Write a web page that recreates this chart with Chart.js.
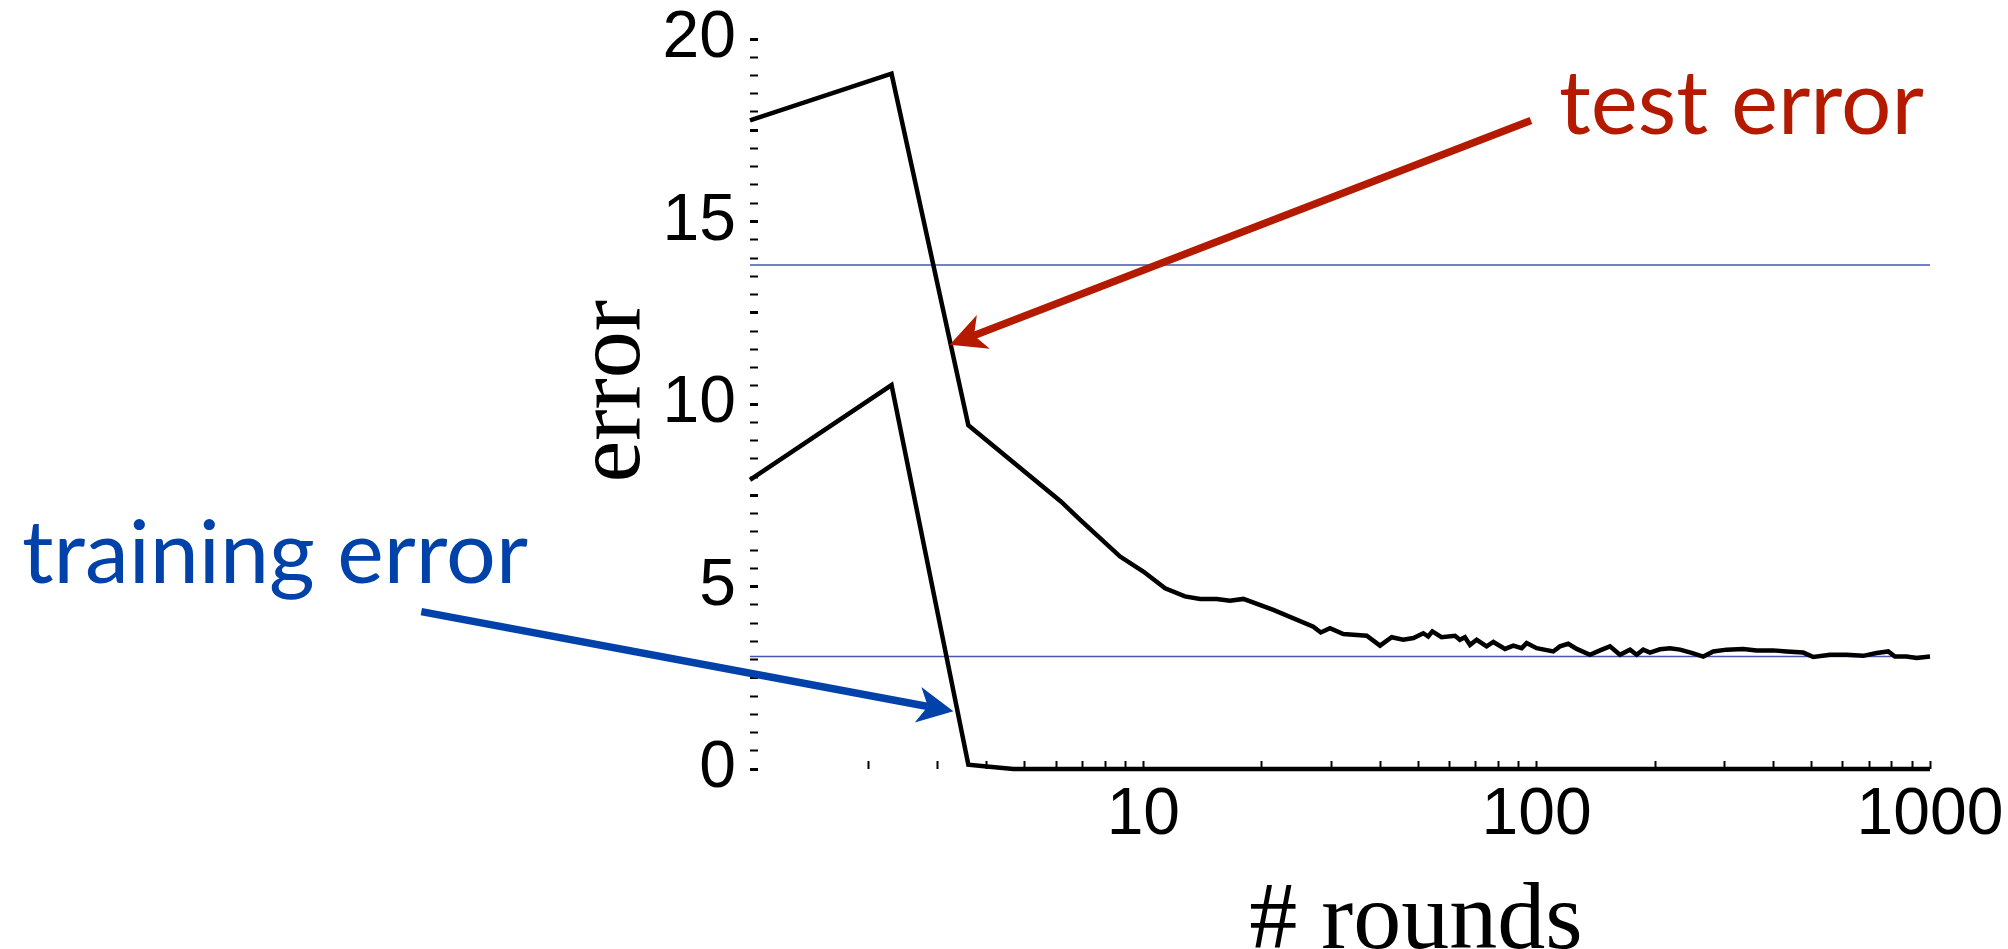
<!DOCTYPE html>
<html>
<head>
<meta charset="utf-8">
<title>test / training error vs rounds</title>
<script src="https://cdn.jsdelivr.net/npm/chart.js@4.4.1/dist/chart.umd.min.js"></script>
<style>
  html, body { margin: 0; padding: 0; background: #fff; }
</style>
</head>
<body>
<canvas id="errorChart" width="2008" height="949"></canvas>
<script>
// values (x = # rounds, y = error %)
const testRounds = [1, 2.29, 3.59, 6.17, 6.9, 8.73, 10, 11.36, 12.76, 13.94, 15.37, 16.61, 17.96, 21.4,
  27.05, 28.25, 29.83, 32.24, 36.98, 39.97, 42.8, 45.8, 48.6, 51.5, 53, 54.3, 57.3, 62, 63.8, 65.7,
  67.7, 70.4, 74.6, 77.6, 83.1, 87.2, 91.6, 94.3, 100, 110.2, 114.6, 120.3, 126.4, 136.6, 144.9,
  153.6, 162.8, 172.7, 179.6, 186.6, 194.1, 205.8, 218.2, 231.4, 247.7, 265.2, 281.2, 304.1, 335.1,
  362.5, 399.4, 432.1, 476.2, 505, 556.7, 613.8, 676.5, 731.6, 783.1, 814.4, 872.1, 924.6, 1000];
const testError = [17.77, 19.05, 9.42, 7.33, 6.83, 5.82, 5.41, 4.95, 4.73, 4.66, 4.66, 4.61, 4.66, 4.36,
  3.9, 3.74, 3.86, 3.7, 3.65, 3.38, 3.61, 3.54, 3.59, 3.72, 3.63, 3.77, 3.61, 3.65, 3.54, 3.61,
  3.4, 3.54, 3.36, 3.48, 3.29, 3.38, 3.31, 3.45, 3.31, 3.22, 3.36, 3.43, 3.29, 3.13, 3.25,
  3.36, 3.13, 3.27, 3.13, 3.27, 3.19, 3.28, 3.31, 3.27, 3.18, 3.08, 3.22, 3.27, 3.29,
  3.25, 3.25, 3.22, 3.19, 3.07, 3.13, 3.13, 3.1, 3.18, 3.22, 3.08, 3.08, 3.04, 3.08];

const trainRounds = [1, 2.29, 3.59, 4.0, 4.67, 1000];
const trainError = [7.92, 10.52, 0.12, 0.07, 0, 0];

// the two thin blue reference lines
const refRounds = [1, 1000];
const refUpper = [13.81, 13.81];
const refLower = [3.08, 3.08];

const roundTicks = [2, 3, 4, 5, 6, 7, 8, 9, 10, 20, 30, 40, 50, 60, 70, 80, 90,
  100, 200, 300, 400, 500, 600, 700, 800, 900, 1000];
const roundLabels = [10, 100, 1000];
const errorLabels = [0, 5, 10, 15, 20];

const RED = '#b41a00';
const BLUE = '#0041aa';
const REF = '#4656b0';

function pts(xs, ys) {
    return xs.map((x, i) => ({ x: x, y: ys[i] }));
}

function drawArrow(ctx, x0, y0, x1, y1, color) {
    const ang = Math.atan2(y1 - y0, x1 - x0);
    const headLen = 36, headHalf = 18, notch = 26;
    ctx.save();
    ctx.strokeStyle = color;
    ctx.fillStyle = color;
    ctx.lineWidth = 7.5;
    ctx.lineCap = 'butt';
    ctx.beginPath();
    ctx.moveTo(x0, y0);
    ctx.lineTo(x1 - notch * Math.cos(ang), y1 - notch * Math.sin(ang));
    ctx.stroke();
    ctx.translate(x1, y1);
    ctx.rotate(ang);
    ctx.beginPath();
    ctx.moveTo(0, 0);
    ctx.lineTo(-headLen, -headHalf);
    ctx.lineTo(-notch, 0);
    ctx.lineTo(-headLen, headHalf);
    ctx.closePath();
    ctx.fill();
    ctx.restore();
}

// labels, arrows and axis titles, placed in data space
const annotations = {
    id: 'annotations',
    afterDatasetsDraw(chart) {
        const { ctx, scales: { x, y }, chartArea } = chart;

        drawArrow(ctx, x.getPixelForValue(96.7), y.getPixelForValue(17.77),
            x.getPixelForValue(3.22), y.getPixelForValue(11.62), RED);
        drawArrow(ctx, x.getPixelForValue(0.146), y.getPixelForValue(4.31),
            x.getPixelForValue(3.29), y.getPixelForValue(1.58), BLUE);

        ctx.save();
        ctx.textAlign = 'left';
        ctx.textBaseline = 'alphabetic';
        ctx.font = '89px Lato, "Open Sans", sans-serif';
        ctx.fillStyle = RED;
        ctx.fillText('test error', x.getPixelForValue(114), y.getPixelForValue(17.4));
        ctx.font = '88px Lato, "Open Sans", sans-serif';
        ctx.fillStyle = BLUE;
        ctx.fillText('training error', x.getPixelForValue(0.0141), y.getPixelForValue(5.1));

        // axis titles
        ctx.fillStyle = '#000';
        ctx.font = '96px "Liberation Serif", "Times New Roman", serif';
        ctx.textAlign = 'center';
        ctx.fillText('# rounds', x.getPixelForValue(49.3), 948);
        ctx.translate(chartArea.left - 111, y.getPixelForValue(10.35));
        ctx.rotate(-Math.PI / 2);
        ctx.font = '94px "Liberation Serif", "Times New Roman", serif';
        ctx.fillText('error', 0, 0);
        ctx.restore();
    }
};

const tickFont = { family: '"Liberation Sans", Arial, Helvetica, sans-serif', size: 66, lineHeight: 1 };

new Chart(document.getElementById('errorChart'), {
    type: 'line',
    data: {
        datasets: [
            { data: pts(testRounds, testError), borderColor: '#000', borderWidth: 4.5, order: 1, clip: false },
            { data: pts(trainRounds, trainError), borderColor: '#000', borderWidth: 4.5, order: 1, clip: false },
            { data: pts(refRounds, refUpper), borderColor: REF, borderWidth: 1.5, order: 2 },
            { data: pts(refRounds, refLower), borderColor: REF, borderWidth: 1.5, order: 2 }
        ]
    },
    options: {
        responsive: false,
        animation: false,
        layout: { padding: { left: 0, right: 78, top: 39, bottom: 0 } },
        elements: {
            point: { radius: 0, hoverRadius: 0 },
            line: { tension: 0, fill: false, borderJoinStyle: 'miter' }
        },
        plugins: {
            legend: { display: false },
            tooltip: { enabled: false }
        },
        scales: {
            x: {
                type: 'logarithmic',
                min: 1,
                max: 1000,
                afterBuildTicks: s => { s.ticks = roundTicks.map(v => ({ value: v })); },
                afterFit: s => {
                    s.height = 180;
                    s.paddingLeft = 0;
                    s.paddingRight = 0;
                },
                border: { display: false },
                grid: { drawOnChartArea: false, tickLength: -8, tickWidth: 2, tickColor: '#000' },
                ticks: {
                    autoSkip: false,
                    maxRotation: 0,
                    padding: 22,
                    color: '#000',
                    font: tickFont,
                    callback: v => roundLabels.includes(v) ? String(v) : ''
                }
            },
            y: {
                min: 0,
                max: 20,
                afterFit: s => {
                    s.width = 750;
                    s.paddingTop = 0;
                    s.paddingBottom = 0;
                },
                border: { display: false },
                grid: {
                    drawOnChartArea: false,
                    tickLength: -8,
                    tickColor: '#000',
                    tickWidth: c => (c.tick && c.tick.value % 2.5 === 0) ? 3 : 2
                },
                ticks: {
                    stepSize: 0.5,
                    autoSkip: false,
                    padding: 22,
                    color: '#000',
                    font: tickFont,
                    callback: v => errorLabels.includes(v) ? String(v) : ''
                }
            }
        }
    },
    plugins: [annotations]
});
</script>
</body>
</html>
